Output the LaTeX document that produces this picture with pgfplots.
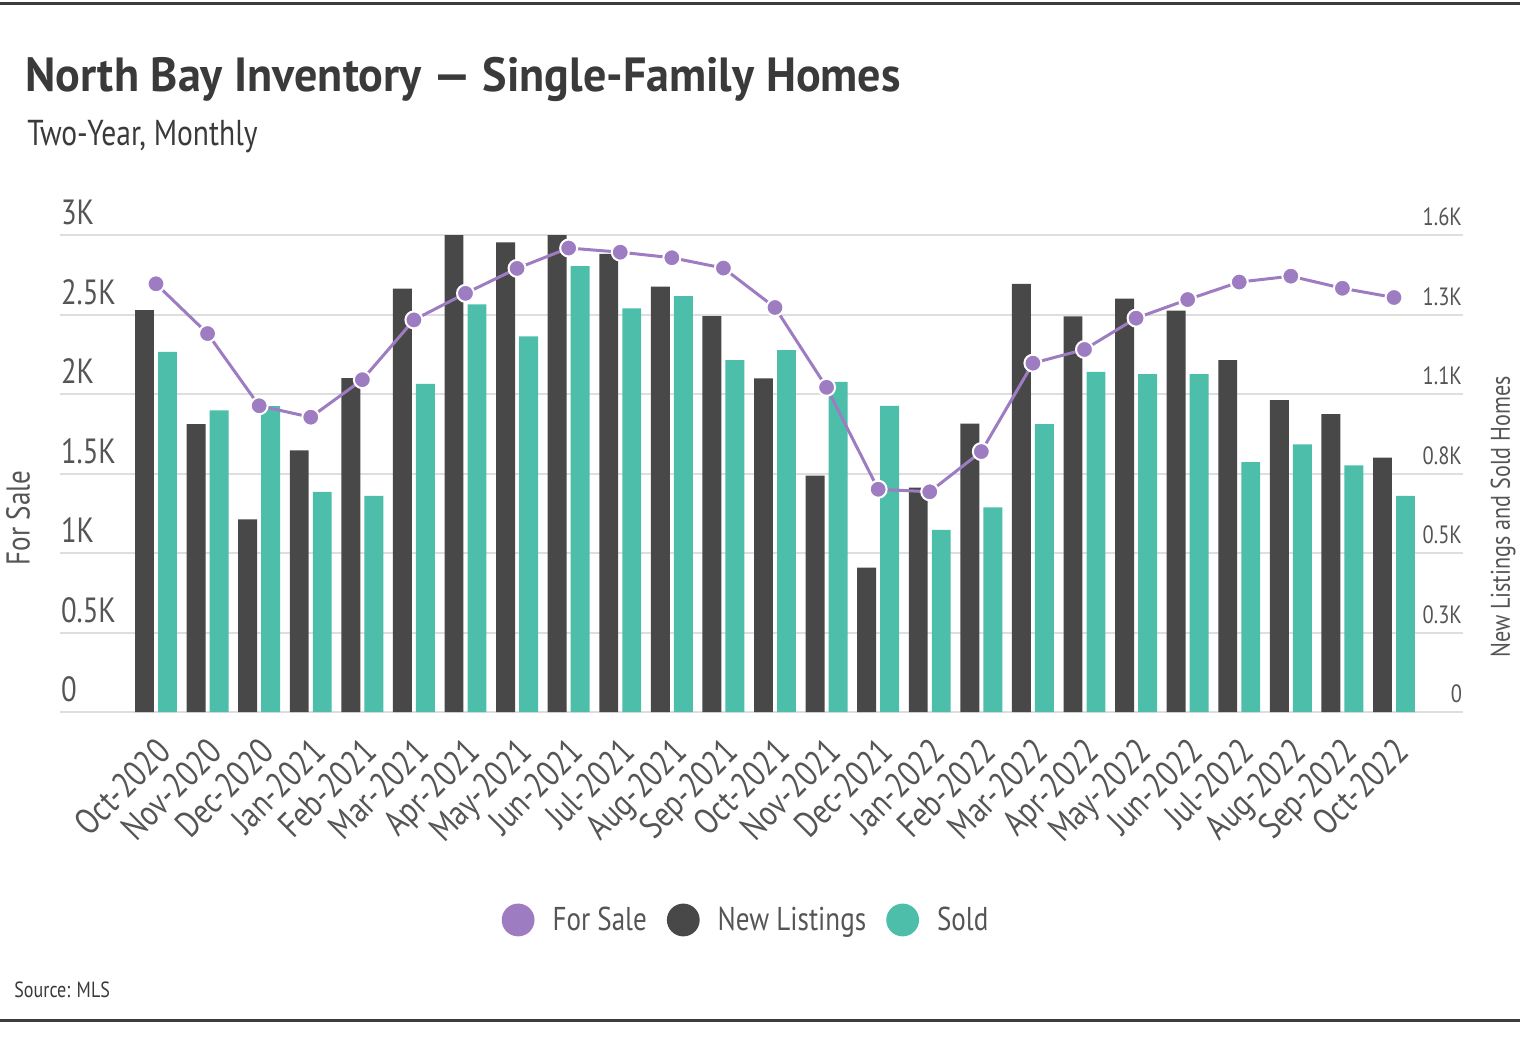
\documentclass[border=0pt]{standalone}
\usepackage{pgfplots}
\pgfplotsset{compat=1.18}
\usepackage{fontspec}
\setmainfont{PT Sans}[FakeStretch=0.82]
\newfontfamily\titlefont{PT Sans}[FakeStretch=0.96]

\definecolor{forsale}{RGB}{158,124,193}
\definecolor{newlist}{RGB}{72,72,72}
\definecolor{sold}{RGB}{77,190,170}
\definecolor{gridcol}{RGB}{222,222,222}
\definecolor{tickcol}{RGB}{85,85,85}
\definecolor{titlecol}{RGB}{58,58,58}
\definecolor{rulecol}{RGB}{60,60,60}

\begin{document}
\begin{tikzpicture}
\useasboundingbox (0,0) rectangle (770pt,520pt);
\draw[rulecol, line width=1.5pt] (0,518pt) -- (760pt,518pt);
\draw[rulecol, line width=1.5pt] (0,10pt) -- (760pt,10pt);
\node[anchor=base west, text=titlecol, font=\titlefont\bfseries\fontsize{24}{28}\selectfont, inner sep=0pt] at (12.5pt,474pt) {North Bay Inventory — Single-Family Homes};
\node[anchor=base west, text=titlecol, font=\fontsize{18}{22}\selectfont, inner sep=0pt] at (13.5pt,447pt) {Two-Year, Monthly};
\node[anchor=base west, text=titlecol, font=\fontsize{11}{13}\selectfont, inner sep=0pt] at (7pt,21.5pt) {Source: MLS};
\node[rotate=90, text=tickcol, font=\fontsize{16.5}{19}\selectfont] at (9pt,261pt) {For Sale};
\node[rotate=90, text=tickcol, font=\fontsize{13.5}{16}\selectfont] at (751.5pt,261.5pt) {New Listings and Sold Homes};

% bars: new listings and sold (right axis)
\begin{axis}[
  at={(30pt,164pt)}, anchor=south west,
  scale only axis, width=701.5pt, height=238.5pt,
  xmin=-1.861, xmax=25.338, ymin=0, ymax=1600,
  axis line style={draw=none}, major tick length=0pt,
  ymajorgrids, grid style={gridcol, line width=1pt},
  ytick={0,266.667,533.333,800,1066.667,1333.333,1600},
  yticklabels={0,0.3K,0.5K,0.8K,1.1K,1.3K,1.6K},
  yticklabel pos=right,
  yticklabel style={anchor=south east, text=tickcol, font=\fontsize{12.5}{14}\selectfont, xshift=3pt, yshift=1pt},
  xtick={0,...,24},
  xticklabels={Oct-2020,Nov-2020,Dec-2020,Jan-2021,Feb-2021,Mar-2021,Apr-2021,May-2021,Jun-2021,Jul-2021,Aug-2021,Sep-2021,Oct-2021,Nov-2021,Dec-2021,Jan-2022,Feb-2022,Mar-2022,Apr-2022,May-2022,Jun-2022,Jul-2022,Aug-2022,Sep-2022,Oct-2022},
  xticklabel style={rotate=45, anchor=north east, text=tickcol, font=\fontsize{18}{20}\selectfont, yshift=-4.5pt, xshift=-5.5pt},
]
\addplot[ybar, bar width=0.368, bar shift=-0.223, fill=newlist, draw=none] coordinates {
(0,1348) (1,966) (2,646) (3,878) (4,1120) (5,1420) (6,1600) (7,1575) (8,1600) (9,1537)
(10,1427) (11,1328) (12,1119) (13,793) (14,484) (15,753) (16,967) (17,1436) (18,1327)
(19,1387) (20,1346) (21,1180) (22,1046) (23,999) (24,853)};
\addplot[ybar, bar width=0.368, bar shift=0.223, fill=sold, draw=none] coordinates {
(0,1208) (1,1012) (2,1026) (3,738) (4,725) (5,1101) (6,1367) (7,1260) (8,1496) (9,1354)
(10,1395) (11,1180) (12,1214) (13,1107) (14,1027) (15,611) (16,686) (17,966) (18,1141)
(19,1133) (20,1133) (21,838) (22,898) (23,827) (24,725)};
\end{axis}

% for sale line (left axis)
\begin{axis}[
  at={(30pt,164pt)}, anchor=south west,
  scale only axis, width=701.5pt, height=238.5pt,
  xmin=-1.861, xmax=25.338, ymin=0, ymax=3000, clip=false,
  axis line style={draw=none}, major tick length=0pt,
  xtick=\empty,
  ytick={0,500,1000,1500,2000,2500,3000},
  yticklabels={0,0.5K,1K,1.5K,2K,2.5K,3K},
  yticklabel pos=left,
  yticklabel style={anchor=south west, text=tickcol, font=\fontsize{17.5}{20}\selectfont, xshift=-3pt, yshift=1.5pt},
  legend style={at={(0.4897,-0.436)}, anchor=center, draw=none, fill=none,
    text=tickcol, font=\fontsize{16.5}{19}\selectfont,
    /tikz/every odd column/.append style={column sep=7pt},
    /tikz/every even column/.append style={column sep=8pt}},
  legend columns=-1,
  legend image code/.code={\fill[#1] (0pt,0pt) circle (8.2pt);},
]
\addplot[forsale, line width=1.5pt, mark=*, mark size=4.25pt,
  mark options={fill=forsale, draw=white, line width=1pt}, forget plot] coordinates {
(0,2693) (1,2380) (2,1926) (3,1854) (4,2090) (5,2466) (6,2633) (7,2790) (8,2918) (9,2892)
(10,2857) (11,2792) (12,2544) (13,2042) (14,1401) (15,1385) (16,1638) (17,2194) (18,2280)
(19,2477) (20,2594) (21,2704) (22,2741) (23,2665) (24,2607)};
\addlegendimage{fill=forsale, draw=none}
\addlegendentry{For Sale}
\addlegendimage{fill=newlist, draw=none}
\addlegendentry{New Listings}
\addlegendimage{fill=sold, draw=none}
\addlegendentry{Sold}
\end{axis}
\end{tikzpicture}
\end{document}
